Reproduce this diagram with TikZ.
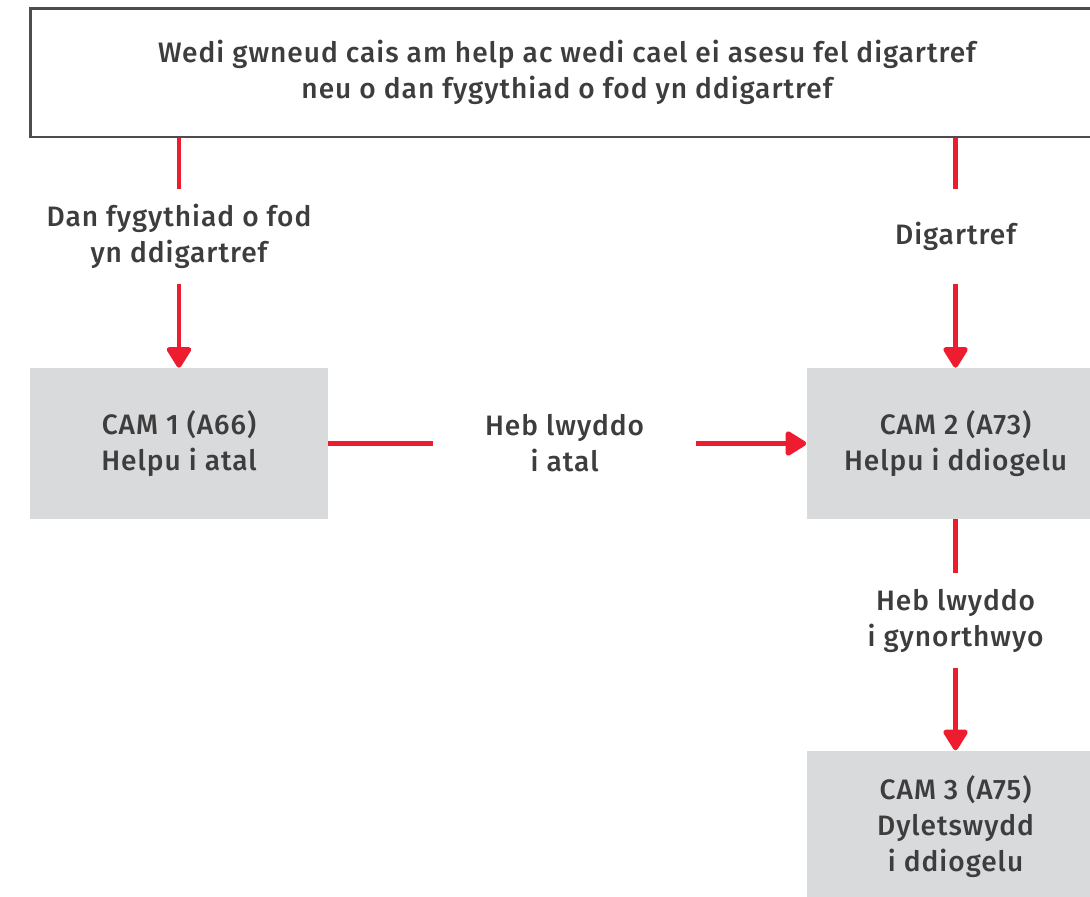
\documentclass[tikz,border=0pt]{standalone}
\usepackage{fontspec}
\setmainfont{Fira Sans}[UprightFont=* Medium, LetterSpace=3.5]
\usetikzlibrary{arrows.meta,positioning}
\definecolor{flowRed}{HTML}{ED1C2E}
\definecolor{camFill}{HTML}{D9DADC}
\definecolor{textGrey}{HTML}{3D3D3D}
\definecolor{frameGrey}{HTML}{4D4D4D}
\tikzset{
  flowfont/.style={font=\fontsize{16}{20.5}\selectfont, text=textGrey},
  startbox/.style={draw=frameGrey, line width=1.7pt, fill=white, flowfont,
    minimum width=21.48cm, minimum height=2.58cm, align=center},
  cambox/.style={fill=camFill, flowfont, minimum width=5.96cm,
    minimum height=3.02cm, align=center},
  steplabel/.style={flowfont, minimum height=1.88cm, inner sep=0pt, align=center},
  flowline/.style={draw=flowRed, line width=2.8pt},
  flowarrow/.style={flowline, -{Triangle[length=4.6mm, width=5.4mm, round]}},
}
\begin{document}
\begin{tikzpicture}[x=0.02cm, y=-0.02cm]
    \useasboundingbox (0,0) rectangle (1090,897);
    \clip (0,0) rectangle (1090,897);
    \node[startbox] (start) at (567,72.5) {Wedi gwneud cais am help ac wedi cael ei asesu fel digartref\\neu o dan fygythiad o fod yn ddigartref};
    \node[cambox] (cam1) at (179,443.5) {CAM 1 (A66)\\Helpu i atal};
    \node[cambox, right=9.56cm of cam1] (cam2) {CAM 2 (A73)\\Helpu i ddiogelu};
    \node[cambox, below=4.62cm of cam2] (cam3) {CAM 3 (A75)\\Dyletswydd\\i ddiogelu};
    \node[steplabel, above=1.68cm of cam1] (threat) {Dan fygythiad o fod\\yn ddigartref};
    \node[steplabel, above=1.68cm of cam2] (homeless) {Digartref};
    \node[steplabel, minimum width=5.24cm, right=2.1cm of cam1] (noprevent) {Heb lwyddo\\i atal};
    \node[steplabel, below=1.08cm of cam2] (nosecure) {Heb lwyddo\\i gynorthwyo};
    \draw[flowline] (start.south -| threat) -- (threat);
    \draw[flowarrow] (threat) -- (cam1);
    \draw[flowline] (start.south -| homeless) -- (homeless);
    \draw[flowarrow] (homeless) -- (cam2);
    \draw[flowline] (cam1) -- (noprevent);
    \draw[flowarrow] (noprevent) -- (cam2);
    \draw[flowline] (cam2) -- (nosecure);
    \draw[flowarrow] (nosecure) -- (cam3);
\end{tikzpicture}
\end{document}
